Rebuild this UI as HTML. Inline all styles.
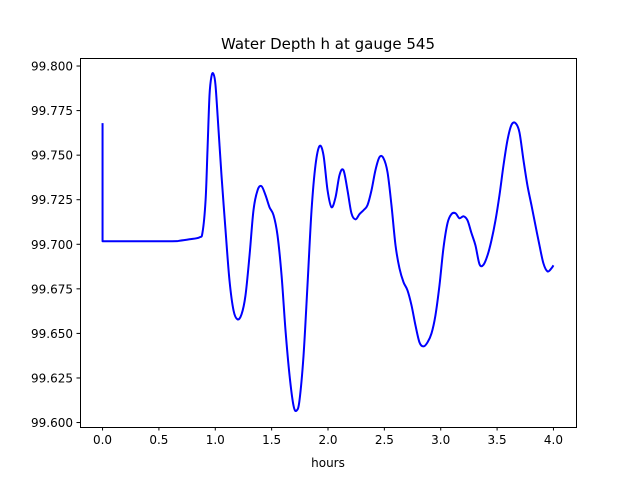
<!DOCTYPE html>
<html><head><meta charset="utf-8"><style>
body{margin:0;background:#fff}
svg{display:block;font-family:"DejaVu Sans","Liberation Sans",sans-serif}
</style></head><body>
<svg id="chart" width="640" height="480" viewBox="0 0 640 480" xmlns="http://www.w3.org/2000/svg">
<rect width="640" height="480" fill="#fff"/>
<text x="328" y="49" font-size="15" text-anchor="middle">Water Depth h at gauge 545</text>
<g id="plot"></g>
<rect x="80.5" y="58.5" width="496" height="369" fill="none" stroke="#000" stroke-width="1"/>
<text x="328" y="467" font-size="12" text-anchor="middle">hours</text>
</svg>
<script>
const hours=[0,0,0.594,0.683,0.772,0.860,0.887,0.914,0.931,0.949,0.967,0.984,1.002,1.029,1.055,1.091,1.126,1.162,1.197,1.233,1.268,1.304,1.339,1.375,1.410,1.446,1.481,1.517,1.552,1.588,1.623,1.659,1.694,1.721,1.747,1.783,1.818,1.854,1.889,1.925,1.960,1.996,2.031,2.067,2.102,2.137,2.173,2.208,2.244,2.279,2.315,2.350,2.386,2.421,2.457,2.492,2.528,2.563,2.599,2.634,2.670,2.705,2.741,2.776,2.812,2.847,2.882,2.918,2.953,2.989,3.024,3.060,3.095,3.131,3.166,3.202,3.237,3.273,3.308,3.344,3.379,3.415,3.450,3.486,3.521,3.557,3.592,3.627,3.663,3.698,3.734,3.769,3.805,3.840,3.876,3.911,3.947,3.982,4.0];
const depth=[99.768,99.7017,99.7017,99.702,99.7028,99.7039,99.7067,99.7247,99.7528,99.7837,99.7944,99.7955,99.7893,99.764,99.7388,99.7079,99.6798,99.6629,99.6579,99.6607,99.6713,99.6938,99.7191,99.7303,99.7326,99.7275,99.7208,99.7163,99.7051,99.6826,99.6517,99.6264,99.6095,99.6067,99.6124,99.6376,99.677,99.7191,99.7444,99.7551,99.75,99.7303,99.7208,99.7264,99.7388,99.7416,99.7303,99.7174,99.714,99.7169,99.7191,99.7219,99.7303,99.7416,99.7489,99.7483,99.7404,99.7219,99.6994,99.6865,99.6787,99.6742,99.6657,99.6545,99.6449,99.6427,99.6449,99.65,99.6601,99.677,99.6978,99.7118,99.7169,99.7174,99.7146,99.7157,99.7135,99.7062,99.6994,99.6888,99.6885,99.6938,99.7022,99.7135,99.7275,99.7444,99.7584,99.7669,99.768,99.7629,99.7472,99.7331,99.7219,99.7107,99.6994,99.6893,99.6848,99.6865,99.6882];
const xTicks=["0.0","0.5","1.0","1.5","2.0","2.5","3.0","3.5","4.0"];
const yTicks=["99.600","99.625","99.650","99.675","99.700","99.725","99.750","99.775","99.800"];
const X0=80,X1=576,Y0=58,Y1=427,xMin=-0.2,xMax=4.2,yMin=99.5975,yMax=99.8045;
function sx(v){return X0+(v-xMin)/(xMax-xMin)*(X1-X0);}
function sy(v){return Y1-(v-yMin)/(yMax-yMin)*(Y1-Y0);}
const NS="http://www.w3.org/2000/svg";
const g=document.getElementById('plot');
function mk(t,a){const e=document.createElementNS(NS,t);for(const k in a)e.setAttribute(k,a[k]);g.appendChild(e);return e;}
xTicks.forEach(l=>{const x=sx(parseFloat(l));
 const t=mk('line',{x1:x,x2:x,y1:Y1,y2:Y1+3.5,stroke:'#000'});
 
 
 const tx=mk('text',{x:x,y:Y1+17,'font-size':12,'text-anchor':'middle'});tx.textContent=l;
 
 
});
yTicks.forEach(l=>{const y=sy(parseFloat(l));
 const t=mk('line',{x1:X0-3.5,x2:X0,y1:y,y2:y,stroke:'#000'});
 
 
 const tx=mk('text',{x:X0-7,y:y+4.5,'font-size':12,'text-anchor':'end'});tx.textContent=l;
 
 
});
const P=hours.map((h,i)=>[sx(h),sy(depth[i])]);
let d='M'+P[0][0].toFixed(2)+','+P[0][1].toFixed(2)+' L'+P[1][0].toFixed(2)+','+P[1][1].toFixed(2);
for(let i=1;i<P.length-1;i++){
 const p0=P[Math.max(1,i-1)],p1=P[i],p2=P[i+1],p3=P[Math.min(P.length-1,i+2)];
 const c1=[p1[0]+(p2[0]-p0[0])/6,p1[1]+(p2[1]-p0[1])/6];
 const c2=[p2[0]-(p3[0]-p1[0])/6,p2[1]-(p3[1]-p1[1])/6];
 d+=' C'+c1.map(v=>v.toFixed(2)).join(',')+' '+c2.map(v=>v.toFixed(2)).join(',')+' '+p2.map(v=>v.toFixed(2)).join(',');
}
const line=mk('path',{d:d,fill:'none',stroke:'#0000ff','stroke-width':2,'stroke-linejoin':'round'});


</script>
</body></html>
